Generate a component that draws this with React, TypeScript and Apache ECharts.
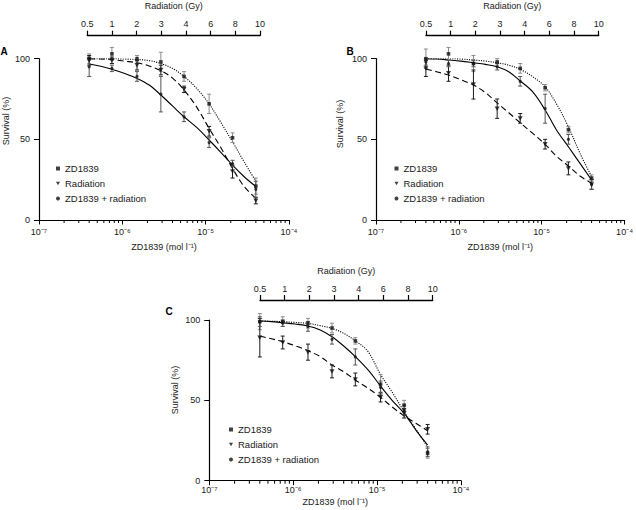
import React, { useEffect, useRef } from "react";
import * as echarts from "echarts";

// ---------- data ----------
const concentrations = [4e-7, 7.5e-7, 1.5e-6, 2.9e-6, 5.5e-6, 1.1e-5, 2.1e-5, 4e-5];
const radiationGy = ["0.5", "1", "2", "3", "4", "6", "8", "10"];
const curveConc = [4e-7, 5.5e-7, 7.5e-7, 1.05e-6, 1.5e-6, 2.1e-6, 2.9e-6, 4e-6, 5.5e-6, 7.8e-6, 1.1e-5, 1.5e-5, 2.1e-5, 2.9e-5, 4e-5];
const xExponentMin = -7;
const xExponentMax = -4;
const minorMultipliers = [2, 3, 4, 5, 6, 7, 8, 9];
const yTicks = [0, 50, 100];
const seriesNames = ["ZD1839", "Radiation", "ZD1839 + radiation"];

// Panel A
const aZdMean = [100, 103, 100, 98, 89, 72, 51, 21];
const aZdErr = [3, 4, 2, 6, 3, 6, 3, 5];
const aRadMean = [99, 99, 96, 93, 81, 55, 30, 12];
const aRadErr = [3, 2, 3, 3, 2, 3, 4, 2];
const aComboMean = [95, 94, 89, 78, 64, 48, 35, 19];
const aComboErr = [6, 2, 3, 11, 3, 3, 2, 5];
const aZdCurve = [100, 100, 100, 99.8, 99.5, 98.8, 97, 94, 89, 81.6, 72, 61, 48.5, 36, 24];
const aRadCurve = [100, 99.8, 99.5, 98.5, 97.5, 95.5, 92.6, 88, 80.6, 70, 56.8, 45.4, 32, 20.7, 13.4];
const aComboCurve = [96.7, 95.3, 93.4, 91, 87.8, 83.7, 77.5, 70.7, 64, 57.4, 49.6, 42.3, 34, 26.8, 20.7];

// Panel B
const bZdMean = [100, 103, 97, 98, 94, 82, 56, 26];
const bZdErr = [6, 4, 5, 2, 3, 2, 2, 2];
const bRadMean = [94, 91, 84, 69, 63, 47, 32, 22];
const bRadErr = [5, 5, 9, 6, 3, 3, 4, 3];
const bComboMean = [98, 97, 97, 95, 86, 69, 50, 22];
const bComboErr = [2, 2, 2, 2, 3, 9, 3, 3];
const bZdCurve = [100, 100, 100, 99.8, 99.2, 98.5, 97.5, 96, 93.4, 88.8, 82.6, 72.2, 57.8, 41.3, 26.9];
const bRadCurve = [93.6, 91.8, 89.9, 87, 83.7, 78.9, 72.6, 66.5, 60.3, 53.7, 46.9, 39.7, 33.5, 27.3, 22.8];
const bComboCurve = [100, 99.8, 99.2, 98.5, 97.5, 96.5, 95, 91.9, 86.2, 79.4, 68.2, 56, 45.4, 35.1, 24.8];

// Panel C
const cZdMean = [99, 99, 98, 95, 87, 60, 47, 17];
const cZdErr = [5, 3, 3, 3, 2, 6, 3, 3];
const cRadMean = [89, 86, 80, 68, 63, 52, 42, 32];
const cRadErr = [12, 4, 5, 4, 4, 3, 3, 3];
const cComboMean = [99, 98, 96, 88, 77, 58, 44, 18];
const cComboErr = [3, 2, 3, 3, 5, 4, 3, 3];
const cZdCurve = [99.4, 99.2, 99, 98.5, 97.9, 96.5, 94.8, 91.7, 87.1, 80.3, 66, 55.4, 43, 32, 21];
const cRadCurve = [90, 88.3, 86.5, 84, 80.9, 77.2, 72, 67.8, 62.7, 57.5, 51.9, 46, 40.3, 35.7, 31.1];
const cComboCurve = [99.4, 99, 98.3, 97.5, 96.3, 93.8, 89.6, 83.8, 77.2, 68.9, 58.9, 50.2, 41.9, 31.5, 22.2];

// ---------- layout ----------
const FONT = "'Liberation Sans', Arial, Helvetica, sans-serif";
const TEXT = "#1a1a1a";
const TRI_DOWN = "path://M0,0L10,0L5,9Z";

const panels = [
  {
    letter: "A",
    grid: { left: 39, top: 58.7, width: 250, height: 161.3 },
    topAxis: { left: 87.3, top: 35.7, width: 172.7 },
    legend: { left: 56, top: 163 },
    letterPos: [4, 51],
    yTitle: [6, 121],
    xLabelMargin: 7,
    xNameGap: 22,
    data: {
      mean: [aZdMean, aRadMean, aComboMean],
      err: [aZdErr, aRadErr, aComboErr],
      curve: [aZdCurve, aRadCurve, aComboCurve],
    },
  },
  {
    letter: "B",
    grid: { left: 376, top: 58.7, width: 251, height: 161.3 },
    topAxis: { left: 426, top: 35.7, width: 172.7 },
    legend: { left: 394.5, top: 163 },
    letterPos: [350, 51.5],
    yTitle: [340, 124],
    xLabelMargin: 7,
    xNameGap: 22,
    data: {
      mean: [bZdMean, bRadMean, bComboMean],
      err: [bZdErr, bRadErr, bComboErr],
      curve: [bZdCurve, bRadCurve, bComboCurve],
    },
  },
  {
    letter: "C",
    grid: { left: 209.3, top: 320, width: 251.7, height: 160.7 },
    topAxis: { left: 260, top: 300, width: 172.7 },
    legend: { left: 229, top: 424 },
    letterPos: [169, 311],
    yTitle: [174.5, 390],
    xLabelMargin: 5,
    xNameGap: 16.5,
    data: {
      mean: [cZdMean, cRadMean, cComboMean],
      err: [cZdErr, cRadErr, cComboErr],
      curve: [cZdCurve, cRadCurve, cComboCurve],
    },
  },
];

const symbols = ["rect", TRI_DOWN, "circle"];
const symbolSizes: any[] = [3.6, [5, 4.5], 3.2];
const errColors = ["#8c8c8c", "#1a1a1a", "#555555"];
const curveStyles: any[] = [
  { type: [1.1, 1.3], width: 1.1 },
  { type: [6, 3.5], width: 1.1 },
  { type: "solid", width: 1.1 },
];

const SUP: Record<string, string> = {
  "-": "\u207B", "0": "\u2070", "1": "\u00B9", "2": "\u00B2", "3": "\u00B3",
  "4": "\u2074", "5": "\u2075", "6": "\u2076", "7": "\u2077", "8": "\u2078", "9": "\u2079",
};
const sup = (s: string) => s.split("").map((c) => SUP[c] || c).join("");

const minorLogs: number[] = [];
for (let e = xExponentMin; e < xExponentMax; e++) {
  minorMultipliers.forEach((m) => minorLogs.push(Math.log10(m * Math.pow(10, e))));
}

function buildOption() {
  const grid: any[] = [];
  const xAxis: any[] = [];
  const yAxis: any[] = [];
  const series: any[] = [];
  const legend: any[] = [];
  const graphic: any[] = [];

  panels.forEach((p, pi) => {
    const mainGrid = pi * 2;
    const topGrid = pi * 2 + 1;
    grid.push({ ...p.grid, containLabel: false });
    grid.push({ left: p.topAxis.left, top: p.topAxis.top, width: p.topAxis.width, height: 10, containLabel: false });

    // bottom log axis (values in log10 space)
    xAxis.push({
      type: "value",
      gridIndex: mainGrid,
      position: "bottom",
      min: xExponentMin,
      max: xExponentMax,
      interval: 1,
      axisLine: { show: true, onZero: false, lineStyle: { color: "#000", width: 1.2 } },
      axisTick: { show: true, length: 4.5, lineStyle: { color: "#000", width: 1 } },
      splitLine: { show: false },
      axisLabel: {
        fontFamily: FONT,
        fontSize: 9,
        color: TEXT,
        margin: p.xLabelMargin,
        formatter: (v: number) => "10" + sup(String(Math.round(v))),
      },
      name: "ZD1839 (mol l" + sup("-1") + ")",
      nameLocation: "middle",
      nameGap: p.xNameGap,
      nameTextStyle: { fontFamily: FONT, fontSize: 9, color: TEXT, verticalAlign: "top" },
    });
    // top radiation axis
    xAxis.push({
      type: "category",
      gridIndex: topGrid,
      position: "top",
      data: radiationGy,
      boundaryGap: false,
      axisLine: { show: true, onZero: false, lineStyle: { color: "#000", width: 1.3 } },
      axisTick: { show: true, length: 5, alignWithLabel: true, lineStyle: { color: "#000", width: 1.2 } },
      axisLabel: { fontFamily: FONT, fontSize: 9, color: TEXT, margin: 7, interval: 0 },
      splitLine: { show: false },
      name: "Radiation (Gy)",
      nameLocation: "middle",
      nameGap: 25,
      nameTextStyle: { fontFamily: FONT, fontSize: 9, color: TEXT },
    });

    yAxis.push({
      type: "value",
      gridIndex: mainGrid,
      min: yTicks[0],
      max: yTicks[yTicks.length - 1],
      interval: yTicks[1] - yTicks[0],
      axisLine: { show: true, onZero: false, lineStyle: { color: "#000", width: 1.2 } },
      axisTick: { show: true, length: 5, lineStyle: { color: "#000", width: 1 } },
      splitLine: { show: false },
      axisLabel: { fontFamily: FONT, fontSize: 9, color: TEXT, margin: 9 },
    });
    yAxis.push({ type: "value", gridIndex: topGrid, show: false });

    const xi = pi * 2;
    const yi = pi * 2;

    // minor log ticks on the bottom axis
    series.push({
      type: "custom",
      name: `${p.letter}-minor-ticks`,
      xAxisIndex: xi,
      yAxisIndex: yi,
      silent: true,
      clip: false,
      z: 5,
      data: minorLogs.map((v) => [v, yTicks[0]]),
      encode: { x: 0, y: 1 },
      renderItem: (params: any, api: any) => {
        const pt = api.coord([api.value(0), api.value(1)]);
        return {
          type: "line",
          shape: { x1: pt[0], y1: pt[1], x2: pt[0], y2: pt[1] + 3 },
          style: { stroke: "#000", lineWidth: 1 },
        };
      },
    });

    [0, 1, 2].forEach((s) => {
      const mean = p.data.mean[s];
      const err = p.data.err[s];
      const curve = p.data.curve[s];
      // fitted curve
      series.push({
        type: "line",
        name: `${p.letter}-curve-${s}`,
        xAxisIndex: xi,
        yAxisIndex: yi,
        data: curveConc.map((c, i) => [Math.log10(c), curve[i]]),
        showSymbol: false,
        smooth: 0.35,
        lineStyle: { color: "#000", ...curveStyles[s] },
        silent: true,
        z: 2,
      });
      // error bars
      const col = errColors[s];
      series.push({
        type: "custom",
        name: `${p.letter}-err-${s}`,
        xAxisIndex: xi,
        yAxisIndex: yi,
        silent: true,
        clip: false,
        z: 3,
        data: concentrations.map((c, i) => [Math.log10(c), mean[i] - err[i], mean[i] + err[i]]),
        encode: { x: 0, y: [1, 2] },
        renderItem: (params: any, api: any) => {
          const x = api.value(0);
          const lo = api.coord([x, api.value(1)]);
          const hi = api.coord([x, api.value(2)]);
          const w = 2;
          const st = { stroke: col, lineWidth: 1 };
          return {
            type: "group",
            children: [
              { type: "line", shape: { x1: lo[0], y1: lo[1], x2: hi[0], y2: hi[1] }, style: st },
              { type: "line", shape: { x1: lo[0] - w, y1: lo[1], x2: lo[0] + w, y2: lo[1] }, style: st },
              { type: "line", shape: { x1: hi[0] - w, y1: hi[1], x2: hi[0] + w, y2: hi[1] }, style: st },
            ],
          };
        },
      });
      // points
      series.push({
        type: "scatter",
        name: seriesNames[s],
        xAxisIndex: xi,
        yAxisIndex: yi,
        clip: false,
        z: 4,
        symbol: symbols[s],
        symbolSize: symbolSizes[s],
        itemStyle: { color: "#111" },
        data: concentrations.map((c, i) => [Math.log10(c), mean[i]]),
      });
    });

    legend.push({
      left: p.legend.left,
      top: p.legend.top,
      orient: "vertical",
      itemWidth: 4,
      itemHeight: 4,
      itemGap: 4,
      selectedMode: false,
      padding: 0,
      textStyle: { fontFamily: FONT, fontSize: 9.5, color: TEXT, lineHeight: 11 },
      data: seriesNames.map((n, i) => ({ name: n, icon: symbols[i] })),
    });

    graphic.push({
      type: "text",
      x: p.letterPos[0],
      y: p.letterPos[1],
      style: { text: p.letter, font: `bold 10px ${FONT}`, fill: "#000", align: "center", verticalAlign: "middle" },
    });
    graphic.push({
      type: "text",
      x: p.yTitle[0],
      y: p.yTitle[1],
      rotation: Math.PI / 2,
      style: { text: "Survival (%)", font: `9px ${FONT}`, fill: TEXT, align: "center", verticalAlign: "middle" },
    });
  });

  return {
    animation: false,
    backgroundColor: "#fff",
    textStyle: { fontFamily: FONT },
    grid,
    xAxis,
    yAxis,
    legend,
    series,
    graphic,
  };
}

export default function App() {
  const ref = useRef<HTMLDivElement>(null);
  useEffect(() => {
    if (!ref.current) return;
    const chart = echarts.init(ref.current, undefined, { renderer: "svg" });
    chart.setOption(buildOption() as any);
    return () => chart.dispose();
  }, []);
  return (
    <div
      ref={ref}
      style={{ position: "absolute", left: 0, top: 0, width: 636, height: 510, background: "#fff" }}
    />
  );
}
